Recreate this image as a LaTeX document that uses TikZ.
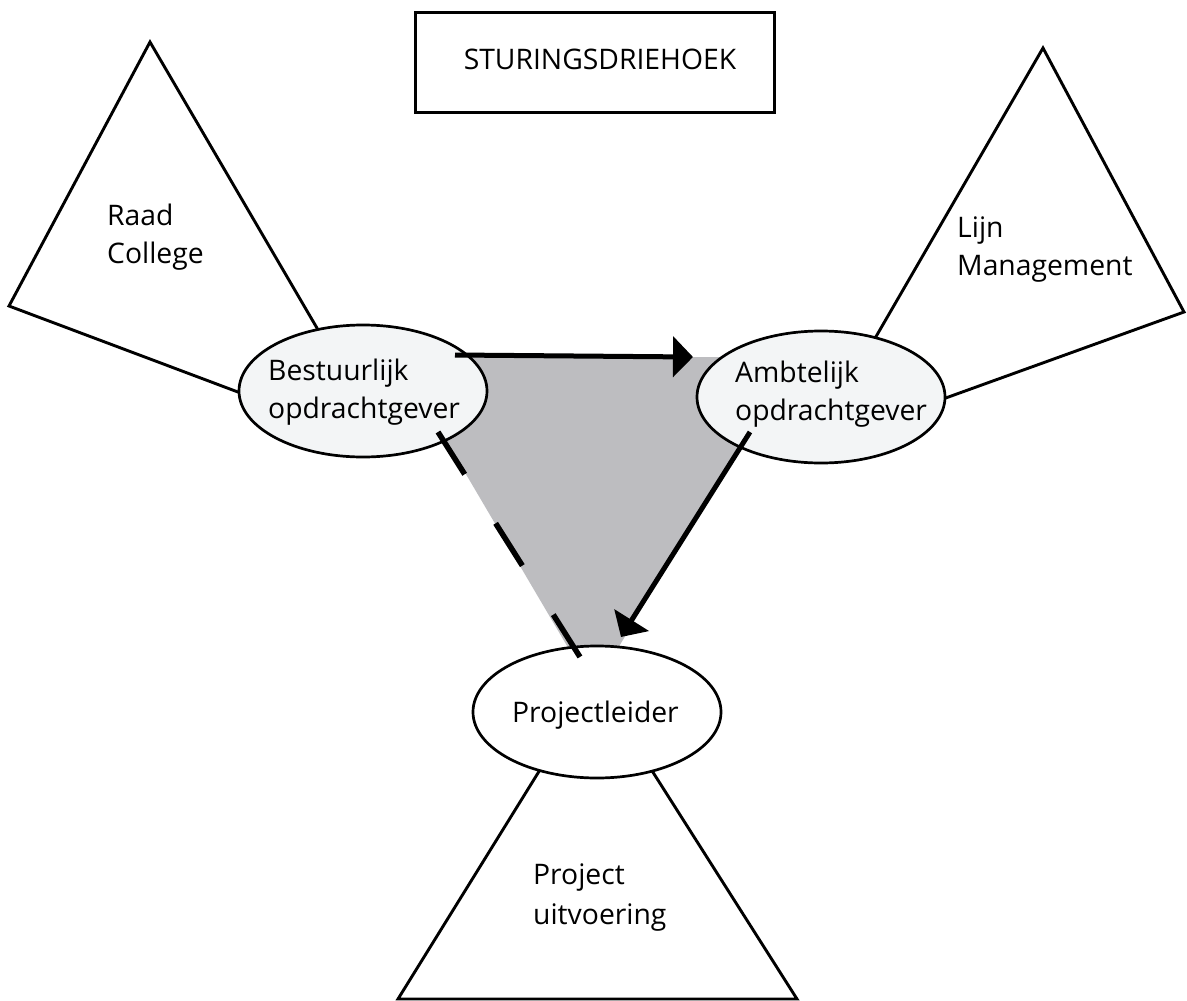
\documentclass[tikz,border=0pt]{standalone}
\usepackage{fontspec}
\setmainfont{Open Sans}
\usetikzlibrary{arrows.meta,calc,shapes.geometric}
\definecolor{steergray}{RGB}{189,189,192}
\definecolor{pale}{RGB}{243,245,246}
\begin{document}
\begin{tikzpicture}[x=1pt,y=-1pt,
  tri/.style={line width=2.9pt, line join=miter},
  oval/.style={ellipse, draw, line width=2.7pt, minimum width=248pt, minimum height=132pt, inner sep=0pt},
  lbl/.style={anchor=base west, inner sep=0pt, font=\fontsize{28.3}{38}\selectfont},
  arr/.style={line width=5pt, -{Triangle[length=20pt,width=40pt]}},
  dsh/.style={line width=5.5pt, dash pattern=on 50pt off 58pt}]
\useasboundingbox (0,0) rectangle (1187,1001);
\fill[white] (0,0) rectangle (1187,1001);
% triangles
\draw[tri] (387,448) -- (150,42) -- (9,306) -- cycle;
\draw[tri] (812.7,446) -- (1043,48) -- (1184,312) -- cycle;
\draw[tri] (595,681) -- (398,999) -- (797,999) -- cycle;
% shaded steering triangle
\fill[steergray] (397,357) -- (792,357) -- (593,690) -- cycle;
% ellipses
\node[oval, fill=pale] (bo) at (363,391) {};
\node[oval, fill=pale] (am) at (821,397) {};
\node[oval, fill=white] (pl) at (597,712) {};
% title box
\node[draw, line width=3pt, minimum width=359pt, minimum height=100pt, inner sep=0pt] (tb) at (594.5,62) {};
\node[lbl, anchor=base] (tt) at (600,69) {STURINGSDRIEHOEK};
% labels
\node[lbl] (rc) at (107,225) {\begin{tabular}[t]{@{}l@{}}Raad\\College\end{tabular}};
\node[lbl] (lm) at (957,237) {\begin{tabular}[t]{@{}l@{}}Lijn\\Management\end{tabular}};
\node[lbl] (bot) at (268,380) {\begin{tabular}[t]{@{}l@{}}Bestuurlijk\\opdrachtgever\end{tabular}};
\node[lbl] (amt) at (735,382) {\begin{tabular}[t]{@{}l@{}}Ambtelijk\\opdrachtgever\end{tabular}};
\node[lbl] (plt) at (512,722) {Projectleider};
\node[lbl] (pu) at (533,884) {\begin{tabular}[t]{@{}l@{}}Project\\[2pt]uitvoering\end{tabular}};
% connectors
\draw[arr] ($(bo.center)+(92,-36)$) -- ($(am.center)+(-128,-40)$);
\draw[arr] ($(am.center)+(-71,35)$) -- ($(pl.center)+(24,-75)$);
\draw[dsh] ($(bo.center)+(75,41)$) -- ($(pl.center)+(-17,-55)$);
\end{tikzpicture}
\end{document}
